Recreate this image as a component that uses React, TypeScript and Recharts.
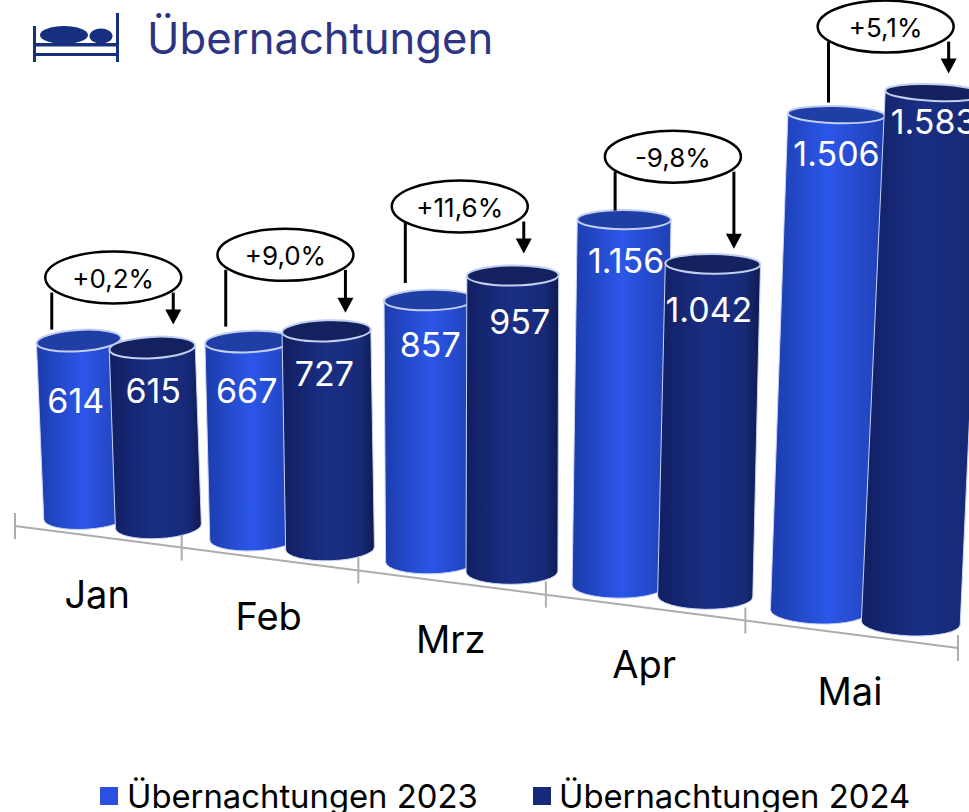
import React from "react";
import { BarChart, Bar, XAxis, YAxis } from "recharts";

const months = ["Jan", "Feb", "Mrz", "Apr", "Mai"];
const nights2023 = [614, 667, 857, 1156, 1506];
const nights2024 = [615, 727, 957, 1042, 1583];
const changes = ["+0,2%", "+9,0%", "+11,6%", "-9,8%", "+5,1%"];

const data = months.map((month, i) => ({ month, y2023: nights2023[i], y2024: nights2024[i], change: changes[i] }));

const W = 969;
const H = 812;
const Y_MAX = 1600;
const FONT = "Inter, sans-serif";

// flat plot corners -> picture, the chart is drawn as a tilted 3D scene
const QUAD = [
  [15, 507],
  [958, 629],
  [985, 89],
  [-8, 41],
];
const AXIS_DROP = 19;
const BAR_SHIFT = 21;

const [[x0, y0], [x1, y1], [x2, y2], [x3, y3]] = QUAD;
const sx = x0 - x1 + x2 - x3;
const sy = y0 - y1 + y2 - y3;
const det = (x1 - x2) * (y3 - y2) - (x3 - x2) * (y1 - y2);
const g = (sx * (y3 - y2) - (x3 - x2) * sy) / det;
const h = ((x1 - x2) * sy - sx * (y1 - y2)) / det;

function project(u: number, v: number) {
  const w = g * u + h * v + 1;
  return {
    x: ((x1 - x0 + g * x1) * u + (x3 - x0 + h * x3) * v + x0) / w,
    y: ((y1 - y0 + g * y1) * u + (y3 - y0 + h * y3) * v + y0) / w,
  };
}

// bars are pulled slightly together compared with the axis
const barU = (flatCenter: number) => 0.52 + ((flatCenter + BAR_SHIFT) / W - 0.52) * 0.98;
const squash = (y: number) => 7.5 + 0.0092 * y;
const tilt = (x: number) => (x - 600) * 0.00012;

// label nudges per bar [dx, dy] from the cylinder top
const labelOffsets2023 = [[-3, 60], [-2, 49], [1, 44], [2, 41], [0, 39]];
const labelOffsets2024 = [[1, 43], [-2, 43], [7, 46], [-4, 46], [-1, 29]];
// callout layout per month: ellipse dx/dy, left line dx/gap, arrow dx/gap
const callouts = [
  { ex: -39, ey: -63, lx: -27, lg: 11, ax: 21, ag: 23 },
  { ex: -41, ey: -76, lx: -23, lg: 15, ax: 19, ag: 18 },
  { ex: -53, ey: -69, lx: -24, lg: 17, ax: 11, ag: 22 },
  { ex: -40, ey: -63, lx: -9, lg: 9, ax: 21, ag: 15 },
  { ex: -49, ey: -66, lx: -8, lg: 12, ax: 14, ag: 19 },
];

function Cylinder({ x, width, height, background, payload, index, dataKey, gradient, topFill, offsets }: any) {
  const value = payload[dataKey];
  const plotH = background?.height ?? H;
  const u = barU(x + width / 2);
  const v = height / plotH;
  const top = project(u, v);
  const base = project(u, 0);
  const rx = (width / 2) * (0.86 + top.x * 0.00017);
  const ryTop = squash(top.y);
  const bottomY = base.y + AXIS_DROP - 6 - squash(base.y);
  const ryBottom = squash(base.y);
  const tTop = tilt(top.x);
  const tBottom = tilt(base.x);
  const deg = (t: number) => (Math.atan(t) * 180) / Math.PI;
  const tl = { x: top.x - rx, y: top.y - rx * tTop };
  const tr = { x: top.x + rx, y: top.y + rx * tTop };
  const bl = { x: base.x - rx, y: bottomY - rx * tBottom };
  const br = { x: base.x + rx, y: bottomY + rx * tBottom };
  const side = `M${tl.x},${tl.y} L${bl.x},${bl.y} A${rx},${ryBottom} ${deg(tBottom)} 0 0 ${br.x},${br.y} L${tr.x},${tr.y} Z`;
  const [dx, dy] = offsets[index];
  return (
    <g>
      <path d={side} fill={`url(#${gradient})`} stroke="#c9d4f5" strokeWidth={1} />
      <ellipse
        cx={top.x}
        cy={top.y}
        rx={rx}
        ry={ryTop}
        fill={topFill}
        stroke="#c3cff0"
        strokeWidth={2}
        transform={`rotate(${deg(tTop)} ${top.x} ${top.y})`}
      />
      <text x={top.x + dx} y={top.y + dy} textAnchor="middle" dominantBaseline="central" fill="#fff" fontSize={34} fontFamily={FONT}>
        {value >= 1000 ? value.toLocaleString("de-DE") : value}
      </text>
    </g>
  );
}

// 2024 bars sit in front, so they also carry the change callout
function Bar2024(props: any) {
  const { x, width, height, background, payload, index } = props;
  const plotH = background?.height ?? H;
  const u24 = barU(x + width / 2);
  const u23 = barU(x - 85 + width / 2);
  const v24 = height / plotH;
  const v23 = (v24 * payload.y2023) / payload.y2024;
  const top24 = project(u24, v24);
  const top23 = project(u23, v23);
  const c = callouts[index];
  const cx = top24.x + c.ex;
  const cy = Math.min(top23.y, top24.y) + c.ey;
  const lx = top23.x + c.lx;
  const ax = top24.x + c.ax;
  const tip = top24.y - c.ag;
  return (
    <g>
      <Cylinder {...props} gradient="dark" topFill="#13215f" offsets={labelOffsets2024} />
      <line x1={lx} x2={lx} y1={cy + 15} y2={top23.y - c.lg} stroke="#000" strokeWidth={3} />
      <line x1={ax} x2={ax} y1={cy + 15} y2={tip - 12} stroke="#000" strokeWidth={3} />
      <polygon points={`${ax - 8},${tip - 15} ${ax + 8},${tip - 15} ${ax},${tip}`} fill="#000" />
      <ellipse cx={cx} cy={cy} rx={68} ry={26} fill="#fff" stroke="#000" strokeWidth={2.5} />
      <text x={cx} y={cy + 1} textAnchor="middle" dominantBaseline="central" fontSize={26} fontFamily={FONT} fill="#000">
        {payload.change}
      </text>
    </g>
  );
}

function Bar2023(props: any) {
  return <Cylinder {...props} gradient="bright" topFill="#1f3fa6" offsets={labelOffsets2023} />;
}

function MonthTick({ x: center, payload, index }: any) {
  const band = W / months.length;
  const uL = (center - band / 2) / W;
  const uR = (center + band / 2) / W;
  const left = project(uL, 0);
  const right = project(uR, 0);
  const mid = project(center / W, 0);
  const drop = AXIS_DROP;
  return (
    <g>
      <line x1={left.x} y1={left.y + drop} x2={right.x} y2={right.y + drop} stroke="#adadad" strokeWidth={2} />
      <line x1={left.x} x2={left.x} y1={left.y + drop - 13} y2={left.y + drop + 13} stroke="#adadad" strokeWidth={2} />
      {index === months.length - 1 && (
        <line x1={right.x} x2={right.x} y1={right.y + drop - 13} y2={right.y + drop + 13} stroke="#adadad" strokeWidth={2} />
      )}
      <text x={mid.x} y={mid.y + drop + 57} textAnchor="middle" dominantBaseline="central" fontSize={38} fontFamily={FONT} fill="#000">
        {payload.value}
      </text>
    </g>
  );
}

function Header() {
  return (
    <div style={{ position: "absolute", left: 0, top: 0, width: 520, height: 70 }}>
      <svg width={130} height={70} style={{ position: "absolute", left: 0, top: 0 }}>
        <rect x={33} y={26} width={3} height={36} fill="#16307f" />
        <rect x={116} y={13} width={3} height={49} fill="#16307f" />
        <rect x={35} y={43} width={82} height={3.5} fill="#16307f" />
        <rect x={35} y={53} width={82} height={3} fill="#16307f" />
        <ellipse cx={64} cy={35} rx={24} ry={9} fill="#16307f" />
        <ellipse cx={101} cy={36} rx={11.5} ry={7.5} fill="#16307f" />
      </svg>
      <div style={{ position: "absolute", left: 147, top: 13, fontFamily: FONT, fontSize: 43.6, lineHeight: "52px", color: "#2e3484" }}>
        Übernachtungen
      </div>
    </div>
  );
}

function LegendRow() {
  const items = [
    { label: "Übernachtungen 2023", color: "#2a50e0", left: 100, textLeft: 127 },
    { label: "Übernachtungen 2024", color: "#16297a", left: 533, textLeft: 559 },
  ];
  return (
    <div style={{ position: "absolute", left: 0, top: 775, width: W, height: 37, overflow: "hidden" }}>
      {items.map((it) => (
        <React.Fragment key={it.label}>
          <div style={{ position: "absolute", left: it.left, top: 12, width: 18, height: 18, background: it.color }} />
          <div style={{ position: "absolute", left: it.textLeft, top: 0, fontFamily: FONT, fontSize: 32.8, lineHeight: "42px", color: "#000", whiteSpace: "nowrap" }}>
            {it.label}
          </div>
        </React.Fragment>
      ))}
    </div>
  );
}

export default function App() {
  return (
    <div style={{ position: "absolute", left: 0, top: 0, width: W, height: H, overflow: "hidden", background: "#fff" }}>
      <BarChart width={W} height={H} data={data} margin={{ top: 0, right: 0, bottom: 0, left: 0 }} barSize={97} barGap={-12}>
        <defs>
          <linearGradient id="bright" x1="0" y1="0" x2="1" y2="0">
            <stop offset="0%" stopColor="#1c3cab" />
            <stop offset="50%" stopColor="#2b56e8" />
            <stop offset="100%" stopColor="#1f40b4" />
          </linearGradient>
          <linearGradient id="dark" x1="0" y1="0" x2="1" y2="0">
            <stop offset="0%" stopColor="#111f62" />
            <stop offset="50%" stopColor="#1a2f85" />
            <stop offset="85%" stopColor="#172a78" />
            <stop offset="100%" stopColor="#0e1a50" />
          </linearGradient>
        </defs>
        <XAxis dataKey="month" axisLine={false} tickLine={false} height={1} interval={0} tick={<MonthTick />} />
        <YAxis hide domain={[0, Y_MAX]} />
        <Bar dataKey="y2023" fill="#2a50e0" shape={<Bar2023 />} isAnimationActive={false} />
        <Bar dataKey="y2024" fill="#16297a" shape={<Bar2024 />} isAnimationActive={false} />
      </BarChart>
      <Header />
      <LegendRow />
    </div>
  );
}
